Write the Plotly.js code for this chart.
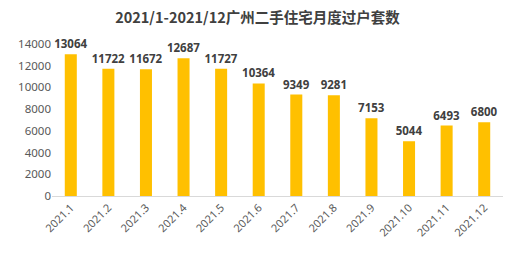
<!DOCTYPE html>
<html><head><meta charset="utf-8">
<script src="https://cdn.plot.ly/plotly-3.0.1.min.js"></script>
<style>html,body{margin:0;padding:0;background:#fff}#chart{width:515px;height:253px}</style>
</head><body><div id="chart"></div>
<script>
const months = ["2021.1","2021.2","2021.3","2021.4","2021.5","2021.6","2021.7","2021.8","2021.9","2021.10","2021.11","2021.12"];
const transfers = [13064,11722,11672,12687,11727,10364,9349,9281,7153,5044,6493,6800];
const yTicks = [0,2000,4000,6000,8000,10000,12000,14000];
const titleText = "2021/1-2021/12广州二手住宅月度过户套数";

Plotly.newPlot("chart", [{
  type: "bar",
  x: months,
  y: transfers,
  marker: {color: "#FFC000"},
  text: transfers.map(String),
  textposition: "outside",
  constraintext: "none",
  cliponaxis: false,
  textfont: {family: "'Open Sans', 'Noto Sans CJK SC', sans-serif", size: 11.5, color: "#404040", weight: "bold"},
  hoverinfo: "none"
}], {
  width: 515, height: 253,
  margin: {l: 52, r: 12, t: 44, b: 57},
  paper_bgcolor: "#fff", plot_bgcolor: "#fff",
  bargap: 0.68,
  showlegend: false,
  title: {text: "<b>" + titleText + "</b>", x: 0.5, xanchor: "center", y: 0.93, yanchor: "middle",
    font: {family: "'Noto Sans CJK SC', sans-serif", size: 14.5, color: "#404040"}},
  xaxis: {
    type: "category", tickangle: -45, showgrid: false, zeroline: false,
    showline: true, linecolor: "#d9d9d9", linewidth: 1, ticks: "",
    tickfont: {family: "'Noto Sans', 'Open Sans', sans-serif", size: 11, color: "#595959"}
  },
  yaxis: {
    range: [0, 14000], tickvals: yTicks, ticktext: yTicks.map(String),
    showgrid: false, zeroline: false, showline: false, ticks: "",
    tickfont: {family: "'Noto Sans', 'Open Sans', sans-serif", size: 11.5, color: "#595959"}
  }
}, {displayModeBar: false, staticPlot: true});
</script></body></html>
